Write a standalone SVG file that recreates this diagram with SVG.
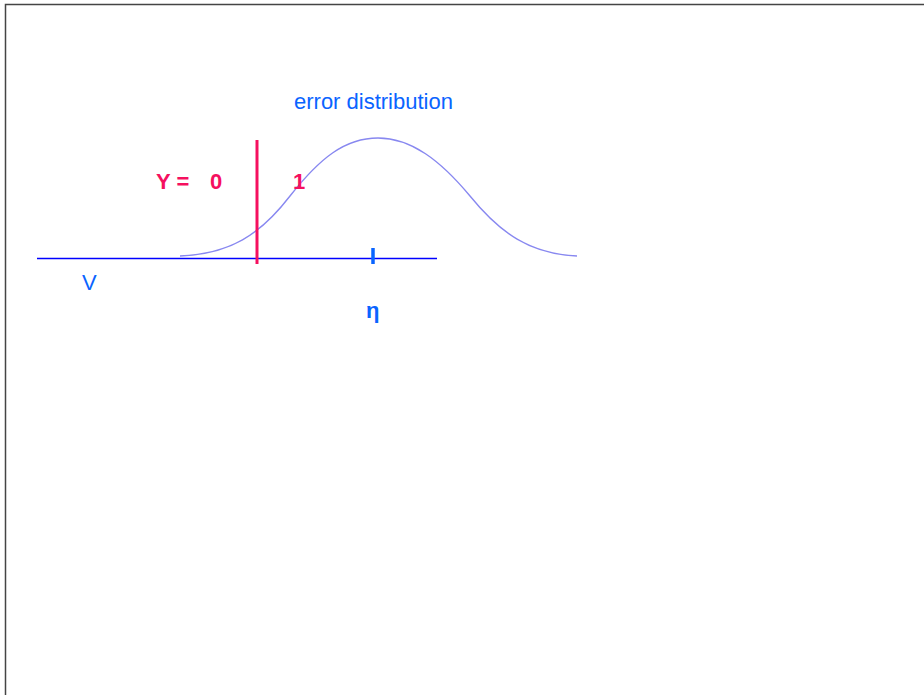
<svg xmlns="http://www.w3.org/2000/svg" width="924" height="695" viewBox="0 0 924 695">
<style>
.lbl{font-family:"Liberation Sans",Arial,sans-serif;font-size:22px}
.blue{fill:#0a64ff}
.red{fill:#f5105f;font-weight:bold}
</style>
<rect x="0" y="0" width="924" height="695" fill="#fff"/>
<g id="frame"><path d="M5.5,695 V4.5 H924" fill="none" stroke="#444" stroke-width="1.5"/></g>
<g id="connectors">
<line x1="37" y1="258.5" x2="437" y2="258.5" stroke="#0000ff" stroke-width="1.3"/>
<path d="M180,256 C230,254 260,235 290,196 C320,158 345,138 378,138 C411,138 440,160 470,196 C500,233 530,254 577,256" fill="none" stroke="#8888f0" stroke-width="1.4"/>
<line x1="257" y1="140" x2="257" y2="264" stroke="#f5105f" stroke-width="3"/>
<line x1="373" y1="248" x2="373" y2="264" stroke="#0a64ff" stroke-width="3.5"/>
</g>
<g id="labels">
<text class="lbl blue" x="294" y="109">error distribution</text>
<text class="lbl red" x="156" y="189">Y =</text>
<text class="lbl red" x="210" y="189">0</text>
<text class="lbl red" x="293" y="189">1</text>
<text class="lbl blue" x="82" y="290">V</text>
<text class="lbl blue" x="366" y="318" font-weight="bold">η</text>
</g>
</svg>
